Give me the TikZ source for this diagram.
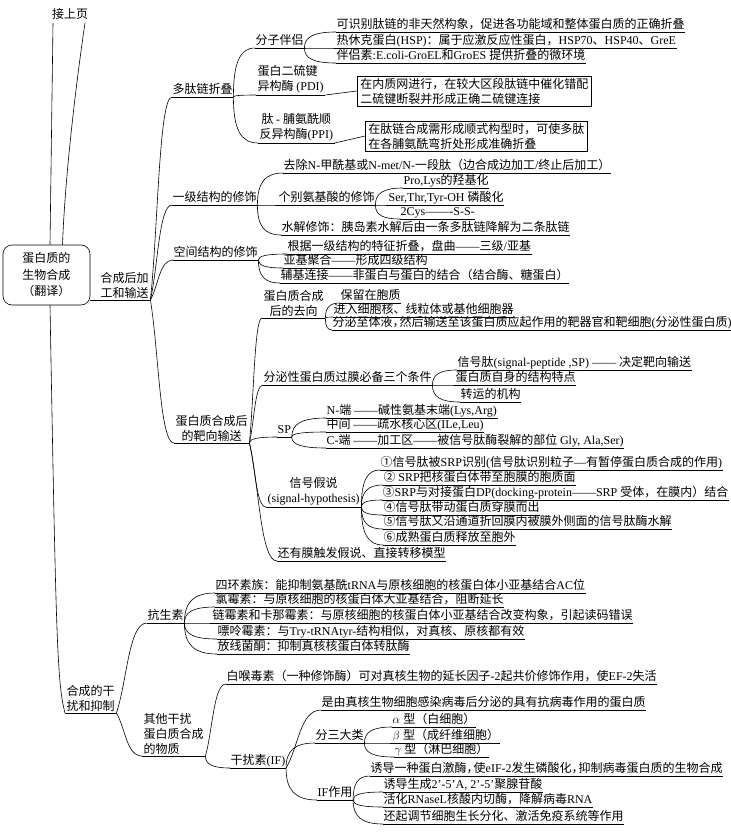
\documentclass[tikz,border=0pt]{standalone}
\usepackage{fontspec}
\setmainfont{Liberation Serif}
\newfontfamily\cjkfont{Noto Sans CJK SC}
\usetikzlibrary{calc}
\XeTeXinterchartokenstate=1
\newXeTeXintercharclass\CJKcls
\newcount\cjkcnt
\def\setcjkrange#1#2{\cjkcnt=#1\relax
  \loop\XeTeXcharclass\cjkcnt=\CJKcls\advance\cjkcnt by 1\relax
  \ifnum\cjkcnt<#2\relax\repeat}
\setcjkrange{"2460}{"2500}
\setcjkrange{"2E80}{"A000}
\setcjkrange{"FF00}{"FFF0}
\XeTeXinterchartoks 0 \CJKcls = {\cjkfont}
\XeTeXinterchartoks 4095 \CJKcls = {\cjkfont}
\XeTeXinterchartoks \CJKcls 0 = {\rmfamily}
\XeTeXinterchartoks 4095 0 = {\rmfamily}
\newcommand\ncomma{，\hspace{-5pt}}
\newcommand\mmlink[2]{\draw[conn] (#1.south east) .. controls ($(#1.south east)!0.7!(#1.south east|-#2.south west)$) and ($(#2.south west)!0.7!(#1.south east|-#2.south west)$) .. (#2.south west);}
\newcommand\mmlinkd[2]{\draw[conn] (#1.south east) .. controls ($(#1.south east)!0.35!(#2.south west)$) and ($(#2.south west)!0.6!(#1.south east|-#2.south west)$) .. (#2.south west);}
\begin{document}
\begin{tikzpicture}[x=1pt,y=-1pt,
  every node/.style={font=\fontsize{12}{15}\selectfont},
  lbl/.style={anchor=south west,inner xsep=0.5pt,inner ysep=0.8pt,text height=9.5pt,text depth=2.5pt},
  mlbl/.style={anchor=south west,inner xsep=1.5pt,inner ysep=1.5pt,align=left},
  mlblc/.style={mlbl,align=center},
  conn/.style={line width=0.6pt},
  uline/.style={line width=0.6pt},
  descbox/.style={draw,line width=0.6pt,anchor=west,align=left,inner xsep=3pt,inner ysep=2pt}]
\fill[white] (0,0) rectangle (731,836);
\useasboundingbox (0,0) rectangle (731,836);

% root
\node (top) at (70,14) {接上页};
\node[draw,rounded corners=9pt,minimum width=87pt,minimum height=60pt,align=center,font=\fontsize{12}{16.5}\selectfont,line width=0.6pt] (root) at (46.5,275) {蛋白质的\\生物合成\\（翻译）};

% 合成后加工和输送
\node[mlbl] (hc) at (99,300) {合成后加\\工和输送};
\node[lbl] (dt) at (172,97) {多肽链折叠};
\node[lbl] (fz) at (255,48) {分子伴侣};
\node[lbl] (fz1) at (336,32) {可识别肽链的非天然构象，促进各功能域和整体蛋白质的正确折叠};
\node[lbl] (fz2) at (336,48) {热休克蛋白(HSP)：属于应激反应性蛋白，HSP70、HSP40、GreE};
\node[lbl] (fz3) at (336,63) {伴侣素:E.coli-GroEL和GroES 提供折叠的微环境};
\node[mlbl] (pdi) at (256,95) {蛋白二硫键\\异构酶 (PDI)};
\node[descbox] (pdibox) at (357,91) {在内质网进行，在较大区段肽链中催化错配\\二硫键断裂并形成正确二硫键连接};
\node[mlblc] (ppi) at (258,143) {肽 - 脯氨酰顺\\反异构酶(PPI)};
\node[descbox] (ppibox) at (365,136) {在肽链合成需形成顺式构型时，可使多肽\\在各脯氨酰弯折处形成准确折叠};

\node[lbl] (yj) at (172,205) {一级结构的修饰};
\node[lbl] (yj1) at (283,173) {去除N-甲酰基或N-met/N-一段肽（边合成边加工/终止后加工）};
\node[lbl] (yj2) at (278,205) {个别氨基酸的修饰};
\node[lbl] (yj2a) at (403,188) {Pro,Lys的羟基化};
\node[lbl] (yj2b) at (388,205) {Ser,Thr,Tyr-OH 磷酸化};
\node[lbl] (yj2c) at (400,219) {2Cys——-S-S-};
\node[lbl] (yj3) at (281,235) {水解修饰：胰岛素水解后由一条多肽链降解为二条肽链};

\node[lbl] (kj) at (173,260) {空间结构的修饰};
\node[lbl] (kj1) at (287,254) {根据一级结构的特征折叠，盘曲——三级/亚基};
\node[lbl] (kj2) at (283,268) {亚基聚合——形成四级结构};
\node[lbl] (kj3) at (280,283) {辅基连接——非蛋白与蛋白的结合（结合酶、糖蛋白）};

\node[mlblc] (bx) at (174,443) {蛋白质合成后\\的靶向输送};
\node[mlblc] (qx) at (262,318) {蛋白质合成\\后的去向};
\node[lbl] (qx1) at (340,303) {保留在胞质};
\node[lbl] (qx2) at (333,317) {进入细胞核、线粒体或基他细胞器};
\node[lbl] (qx3) at (332,330) {分泌至体液\ncomma 然后输送至该蛋白质应起作用的靶器官和靶细胞(分泌性蛋白质)};
\node[lbl] (fm) at (263,385) {分泌性蛋白质过膜必备三个条件};
\node[lbl] (fm1) at (457,370) {信号肽(signal-peptide ,SP) —— 决定靶向输送};
\node[lbl] (fm2) at (455,385) {蛋白质自身的结构特点};
\node[lbl] (fm3) at (460,402) {转运的机构};
\node[lbl] (sp) at (277,437) {SP};
\node[lbl] (sp1) at (326,418) {N-端 ——碱性氨基末端(Lys,Arg)};
\node[lbl] (sp2) at (326,432) {中间 ——疏水核心区(ILe,Leu)};
\node[lbl] (sp3) at (326,448) {C-端 ——加工区——被信号肽酶裂解的部位 Gly, Ala,Ser)};
\node[mlblc] (xh) at (266,507) {信号假说\\(signal-hypothesis)};
\node[lbl] (xh1) at (380,470) {①信号肽被SRP识别(信号肽识别粒子—有暂停蛋白质合成的作用)};
\node[lbl] (xh2) at (383,485) {② SRP把核蛋白体带至胞膜的胞质面};
\node[lbl] (xh3) at (382,500) {③SRP与对接蛋白DP(docking-protein——SRP 受体，在膜内）结合};
\node[lbl] (xh4) at (383,515) {④信号肽带动蛋白质穿膜而出};
\node[lbl] (xh5) at (383,529) {⑤信号肽又沿通道折回膜内被膜外侧面的信号肽酶水解};
\node[lbl] (xh6) at (383,545) {⑥成熟蛋白质释放至胞外};
\node[lbl] (hy) at (277,561) {还有膜触发假说、直接转移模型};

% 合成的干扰和抑制
\node[mlbl] (gan) at (65,713) {合成的干\\扰和抑制};
\node[lbl] (kss) at (147,623) {抗生素};
\node[lbl] (k1) at (215,593) {四环素族：能抑制氨基酰tRNA与原核细胞的核蛋白体小亚基结合AC位};
\node[lbl] (k2) at (215,607) {氯霉素：与原核细胞的核蛋白体大亚基结合，阻断延长};
\node[lbl] (k3) at (212,623) {链霉素和卡那霉素：与原核细胞的核蛋白体小亚基结合改变构象，引起读码错误};
\node[lbl] (k4) at (217,639) {嘌呤霉素：与Try-tRNAtyr-结构相似，对真核、原核都有效};
\node[lbl] (k5) at (217,654) {放线菌酮：抑制真核核蛋白体转肽酶};
\node[mlbl] (qt) at (142,756) {其他干扰\\蛋白质合成\\的物质};
\node[lbl] (qt1) at (226,684) {白喉毒素（一种修饰酶）可对真核生物的延长因子-2起共价修饰作用，使EF-2失活};
\node[lbl] (gr) at (230,768) {干扰素(IF)};
\node[lbl] (gr1) at (321,710) {是由真核生物细胞感染病毒后分泌的具有抗病毒作用的蛋白质};
\node[lbl] (gr2) at (315,743) {分三大类};
\node[lbl] (a1) at (392,727) {$\alpha$ 型（白细胞）};
\node[lbl] (a2) at (392,743) {$\beta$ 型（成纤维细胞）};
\node[lbl] (a3) at (394,757) {$\gamma$ 型（淋巴细胞）};
\node[lbl] (gr3) at (317,800) {IF作用};
\node[lbl] (f1) at (370,776) {诱导一种蛋白激酶\ncomma 使eIF-2发生磷酸化\ncomma 抑制病毒蛋白质的生物合成};
\node[lbl] (f2) at (383,792) {诱导生成2'-5'A, 2'-5'聚腺苷酸};
\node[lbl] (f3) at (383,807) {活化RNaseL核酸内切酶，降解病毒RNA};
\node[lbl] (f4) at (383,824) {还起调节细胞生长分化、激活免疫系统等作用};

% underlines
\foreach \n in {hc,dt,fz,fz1,fz2,fz3,pdi,ppi,yj,yj1,yj2,yj2a,yj2b,yj2c,yj3,kj,kj1,kj2,kj3,bx,qx,qx1,qx2,qx3,fm,fm1,fm2,fm3,sp,sp1,sp2,sp3,xh,xh1,xh2,xh3,xh4,xh5,xh6,hy,gan,kss,k1,k2,k3,k4,k5,qt,qt1,gr,gr1,gr2,a1,a2,a3,gr3,f1,f2,f3,f4}
  \draw[uline] (\n.south west) -- (\n.south east);

% connectors
\draw[conn] ([xshift=-17pt]top.south) -- ([xshift=3.5pt]root.north);
\draw[conn] ([xshift=15pt]top.south) .. controls +(-6,40) and +(3,-80) .. ([xshift=16pt]root.north);
\draw[conn] (root.east |- hc.south west) -- (hc.south west);
\draw[conn] ([xshift=3.5pt]root.south) .. controls +(6,330) and +(-8,-30) .. (gan.south west);

\mmlinkd{hc}{dt}
\mmlinkd{hc}{yj}
\mmlinkd{hc}{kj}
\mmlinkd{hc}{bx}
\mmlink{dt}{fz}
\mmlink{dt}{pdi}
\mmlink{dt}{ppi}
\mmlink{fz}{fz1}
\mmlink{fz}{fz2}
\mmlink{fz}{fz3}
\draw[conn] (pdi.south east) -- (pdibox.west);
\draw[conn] (ppi.south east) -- (ppibox.west);
\mmlink{yj}{yj1}
\mmlink{yj}{yj2}
\mmlink{yj}{yj3}
\mmlink{yj2}{yj2a}
\mmlink{yj2}{yj2b}
\mmlink{yj2}{yj2c}
\mmlink{kj}{kj1}
\mmlink{kj}{kj2}
\mmlink{kj}{kj3}
\mmlinkd{bx}{qx}
\mmlinkd{bx}{fm}
\mmlink{bx}{sp}
\mmlinkd{bx}{xh}
\mmlinkd{bx}{hy}
\mmlink{qx}{qx1}
\mmlink{qx}{qx2}
\mmlink{qx}{qx3}
\mmlink{fm}{fm1}
\mmlink{fm}{fm2}
\mmlink{fm}{fm3}
\mmlink{sp}{sp1}
\mmlink{sp}{sp2}
\mmlink{sp}{sp3}
\foreach \c in {xh1,xh2,xh3,xh4,xh5,xh6} {\mmlink{xh}{\c}}
\mmlinkd{gan}{kss}
\mmlinkd{gan}{qt}
\foreach \c in {k1,k2,k3,k4,k5} {\mmlink{kss}{\c}}
\mmlinkd{qt}{qt1}
\mmlink{qt}{gr}
\mmlinkd{gr}{gr1}
\mmlink{gr}{gr2}
\mmlink{gr}{gr3}
\foreach \c in {a1,a2,a3} {\mmlink{gr2}{\c}}
\foreach \c in {f1,f2,f3,f4} {\mmlink{gr3}{\c}}
\end{tikzpicture}
\end{document}
